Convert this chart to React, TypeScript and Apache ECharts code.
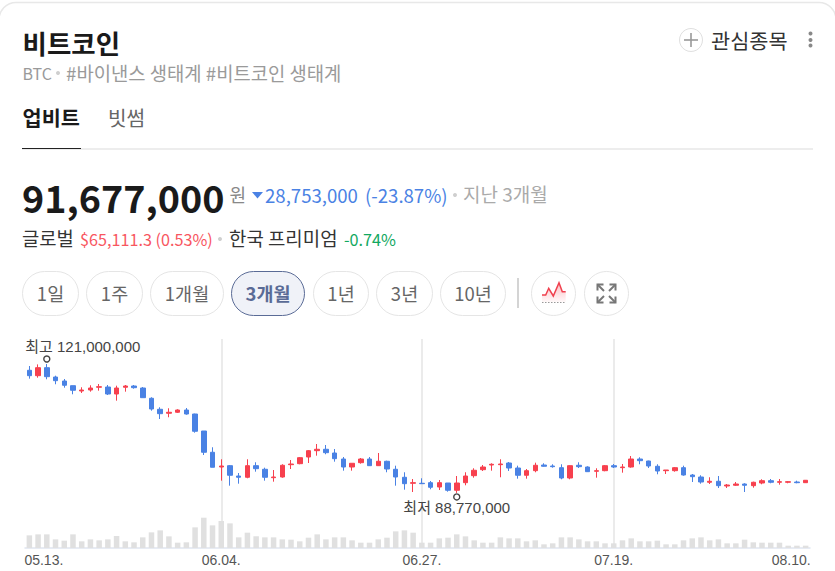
import React, { useEffect, useRef } from "react";
import * as echarts from "echarts";

const categories = [
  "05.13.","05.14.","05.15.","05.16.","05.17.","05.18.","05.19.","05.20.","05.21.","05.22.",
  "05.23.","05.24.","05.25.","05.26.","05.27.","05.28.","05.29.","05.30.","05.31.","06.01.",
  "06.02.","06.03.","06.04.","06.05.","06.06.","06.07.","06.08.","06.09.","06.10.","06.11.",
  "06.12.","06.13.","06.14.","06.15.","06.16.","06.17.","06.18.","06.19.","06.20.","06.21.",
  "06.22.","06.23.","06.24.","06.25.","06.26.","06.27.","06.28.","06.29.","06.30.","07.01.",
  "07.02.","07.03.","07.04.","07.05.","07.06.","07.07.","07.08.","07.09.","07.10.","07.11.",
  "07.12.","07.13.","07.14.","07.15.","07.16.","07.17.","07.18.","07.19.","07.20.","07.21.",
  "07.22.","07.23.","07.24.","07.25.","07.26.","07.27.","07.28.","07.29.","07.30.","07.31.",
  "08.01.","08.02.","08.03.","08.04.","08.05.","08.06.","08.07.","08.08.","08.09.","08.10.",
];
const shownDates = ["05.13.", "06.04.", "06.27.", "07.19.", "08.10."];
const guideDates = ["06.04.", "06.27.", "07.19."];

// Prices in millions of won
const opens = [
  119.43,118.08,120.08,117.75,116.75,115.58,114.25,114.5,115.18,115.25,
  113.5,115.18,115.5,115.0,112.43,109.68,108.68,108.93,109.5,108.5,
  104.25,98.93,95.25,95.58,93.0,92.68,95.58,94.68,92.58,92.75,
  95.83,96.08,97.75,99.33,99.68,98.75,97.25,95.25,96.33,97.25,
  95.58,96.68,94.68,92.68,91.18,91.18,91.33,90.25,91.25,89.43,
  91.33,93.08,94.58,95.75,95.83,96.25,95.0,93.18,94.33,95.75,
  95.5,95.08,92.5,95.68,95.25,94.18,94.33,95.58,95.08,95.25,
  97.25,96.75,95.43,94.33,94.33,95.08,93.25,92.75,91.43,91.68,
  90.5,90.68,91.0,90.58,91.25,91.83,91.43,91.43,91.5,91.33,
];
const closes = [
  118.08,120.08,117.83,116.83,115.68,114.43,114.5,115.0,115.33,113.5,
  115.0,115.5,115.08,112.58,109.75,108.58,108.93,109.5,108.5,104.18,
  98.93,95.18,95.5,93.18,92.68,95.58,94.83,92.68,92.75,95.68,
  96.0,97.58,99.33,99.68,98.83,97.33,95.25,96.18,97.25,95.58,
  96.68,94.75,92.75,91.08,91.33,91.08,90.18,91.33,89.43,91.25,
  93.0,94.43,95.25,95.93,96.0,95.0,93.18,94.33,95.68,95.43,
  95.33,92.5,95.58,95.33,94.08,94.33,95.58,95.25,95.25,97.25,
  96.83,95.5,94.25,94.5,95.08,93.25,92.83,91.5,91.68,90.58,
  90.75,91.0,90.68,91.43,91.83,91.43,91.58,91.58,91.33,91.93,
];
const lows = [
  117.33,117.58,117.18,115.93,115.08,113.43,113.75,114.08,114.33,113.25,
  111.83,114.08,114.83,112.58,109.33,107.25,107.68,108.75,108.33,103.83,
  98.25,95.18,91.83,90.58,91.08,92.43,94.08,91.83,91.58,92.58,
  94.75,95.93,96.25,98.08,98.43,96.58,94.33,94.33,96.08,95.5,
  95.5,93.93,90.58,89.58,89.0,91.0,89.68,89.5,89.08,88.77,
  90.68,92.58,94.25,94.33,92.68,94.25,92.33,92.33,93.93,95.33,
  95.08,92.18,92.18,95.0,94.0,92.58,94.18,95.0,93.83,95.08,
  95.93,95.0,93.43,93.5,94.08,93.08,91.5,91.08,91.0,90.0,
  90.0,90.5,89.0,90.08,90.93,91.18,90.83,91.18,91.18,91.25,
];
const highs = [
  120.5,120.9,121.0,118.08,117.25,115.58,115.18,115.68,116.0,115.75,
  115.58,115.75,115.75,115.25,112.68,110.18,109.93,109.68,110.0,108.58,
  104.25,100.18,97.18,95.75,93.75,97.18,96.43,95.08,94.5,95.93,
  97.0,97.75,99.5,101.0,100.75,99.75,97.75,96.18,97.5,97.75,
  98.75,96.83,95.58,93.93,92.25,92.43,91.75,92.0,91.25,93.0,
  93.93,94.93,95.75,96.18,97.18,96.5,95.58,94.75,96.33,96.18,
  95.93,95.93,95.68,96.43,95.43,94.93,95.75,96.0,96.0,98.0,
  97.68,96.83,95.93,94.5,95.25,95.58,93.5,93.18,92.68,93.0,
  91.0,91.5,91.18,91.58,92.18,92.25,92.25,91.75,91.83,92.0,
];
const volumes = [
  38,41,41,26,22,41,20,26,23,26,
  36,20,17,32,47,53,35,16,17,62,
  91,68,81,74,32,46,35,32,32,26,
  25,20,31,41,26,32,32,23,16,16,
  26,31,50,53,46,16,16,29,31,41,
  35,23,16,16,32,29,29,20,23,11,
  14,32,32,26,20,20,14,14,23,29,
  20,20,22,11,11,23,29,32,23,26,
  14,14,25,17,16,16,16,7,7,7,
];
const rangeButtons = ["1일", "1주", "1개월", "3개월", "1년", "3년", "10년"];
const buttonEdges = [[22, 79], [86, 143], [150, 224], [231, 305], [313, 369], [376, 433], [440, 506]];
const activeButton = "3개월";
const highLabel = "최고 121,000,000";
const lowLabel = "최저 88,770,000";

const RED = "#f7404e";
const BLUE = "#4a82e4";
const KR = '"Noto Sans CJK KR", "Noto Sans", sans-serif';
const AXIS = '"Liberation Sans", "Noto Sans CJK KR", sans-serif';

function txt(text: string, x: number, y: number, fontSize: number, fill: string, extra: any = {}) {
  return {
    type: "text",
    x,
    y,
    style: { text, fontSize, fill, fontFamily: KR, verticalAlign: "middle", align: "left", ...extra },
  };
}
function seg(x1: number, y1: number, x2: number, y2: number, stroke: string, lineWidth = 1) {
  return { type: "line", shape: { x1, y1, x2, y2 }, style: { stroke, lineWidth } };
}

function uiGraphics() {
  const g: any[] = [];
  g.push({ type: "rect", shape: { x: -1, y: 2.5, width: 837, height: 620, r: 17 }, style: { fill: "#fff", stroke: "#e8e8e8", lineWidth: 1.5 }, z: -10 });
  g.push(txt("비트코인", 22.5, 42, 26.5, "#1a1a1a", { fontWeight: "bold" }));
  g.push(txt("BTC", 22.5, 73, 16, "#9a9a9a"));
  g.push({ type: "circle", shape: { cx: 58, cy: 73, r: 2 }, style: { fill: "#cfcfcf" } });
  g.push(txt("#바이낸스 생태계 #비트코인 생태계", 66, 72.5, 18.8, "#9a9a9a"));
  g.push({ type: "circle", shape: { cx: 691, cy: 40, r: 11.5 }, style: { fill: "#fff", stroke: "#e0e0e0", lineWidth: 1 } });
  g.push(seg(684, 40, 698, 40, "#999", 1.6), seg(691, 33, 691, 47, "#999", 1.6));
  g.push(txt("관심종목", 711, 39.5, 20.8, "#333"));
  [33.5, 40, 45.5].forEach((cy) => g.push({ type: "circle", shape: { cx: 810.5, cy, r: 2 }, style: { fill: "#888" } }));
  g.push(txt("업비트", 22.5, 117, 20.8, "#1a1a1a", { fontWeight: "bold" }));
  g.push(txt("빗썸", 108, 117, 20.2, "#666"));
  g.push(seg(22, 149, 813, 149, "#ededed", 2));
  g.push(seg(22, 148.5, 81, 148.5, "#222", 1));

  g.push(txt("91,677,000", 22, 196, 37.7, "#1a1a1a", { fontWeight: "bold" }));
  g.push(txt("원", 229.5, 193.5, 18, "#888"));
  g.push({ type: "polygon", shape: { points: [[252, 192], [263, 192], [257.5, 198.5]] }, style: { fill: BLUE } });
  g.push(txt("28,753,000", 265, 194.5, 18.6, BLUE));
  g.push(txt("(-23.87%)", 365, 194.5, 18.6, BLUE));
  g.push({ type: "circle", shape: { cx: 455, cy: 195, r: 2 }, style: { fill: "#cfcfcf" } });
  g.push(txt("지난 3개월", 463, 193.5, 19, "#aaa"));

  g.push(txt("글로벌", 22, 237.5, 18.8, "#333"));
  g.push(txt("$65,111.3 (0.53%)", 80, 238.5, 16.2, "#f8565f"));
  g.push({ type: "circle", shape: { cx: 220, cy: 239, r: 2 }, style: { fill: "#cfcfcf" } });
  g.push(txt("한국 프리미엄", 229, 237.5, 18.9, "#333"));
  g.push(txt("-0.74%", 344, 238.5, 16.2, "#12a85f"));

  rangeButtons.forEach((label, i) => {
    const [l, r] = buttonEdges[i];
    const on = label === activeButton;
    g.push({
      type: "rect",
      shape: { x: l + 0.5, y: 271.5, width: r - l - 1, height: 44, r: 22 },
      style: { fill: on ? "#f0f2f8" : "#fff", stroke: on ? "#5a6b96" : "#e5e5e5", lineWidth: 1 },
    });
    g.push(txt(label, (l + r) / 2, 293, 18.5, on ? "#5a6b96" : "#666", { align: "center", fontWeight: on ? "bold" : "normal" }));
  });
  g.push(seg(518, 278, 518, 308, "#d4d4d4", 2));
  [553.5, 606.5].forEach((cx) =>
    g.push({ type: "circle", shape: { cx, cy: 293.5, r: 22 }, style: { fill: "#fff", stroke: "#e5e5e5", lineWidth: 1 } })
  );
  const spark = [[542, 295], [545.7, 295], [548.7, 288.3], [553.3, 296], [559, 282.7], [562.3, 291.7], [565.7, 291.7]];
  g.push({
    type: "polygon",
    shape: { points: [...spark, [565.7, 302], [542, 302]] },
    style: {
      fill: new echarts.graphic.LinearGradient(0, 0, 0, 1, [
        { offset: 0, color: "rgba(247,64,78,0.35)" },
        { offset: 1, color: "rgba(247,64,78,0.03)" },
      ]),
    },
  });
  g.push({ type: "polyline", shape: { points: spark }, style: { stroke: "#f0404e", lineWidth: 1.5, fill: "none" } });
  g.push({ type: "line", shape: { x1: 542, y1: 302.5, x2: 565.7, y2: 302.5 }, style: { stroke: "#999", lineWidth: 1, lineDash: [1.5, 1.5] } });
  const ic = "#777";
  [
    [597.5, 284.5, 1, 1],
    [615.5, 284.5, -1, 1],
    [597.5, 302.5, 1, -1],
    [615.5, 302.5, -1, -1],
  ].forEach(([x, y, dx, dy]) => {
    g.push({ type: "polyline", shape: { points: [[x, y + dy * 6], [x, y], [x + dx * 6, y]] }, style: { stroke: ic, lineWidth: 2, fill: "none" } });
    g.push(seg(x, y, x + dx * 6.5, y + dy * 6.5, ic, 2));
  });
  return g;
}

export default function App() {
  const ref = useRef<HTMLDivElement>(null);
  useEffect(() => {
    document.body.style.margin = "0";
    const chart = echarts.init(ref.current!, null, { renderer: "svg" });
    chart.setOption({
      animation: false,
      backgroundColor: "#fff",
      graphic: { elements: uiGraphics() },
      grid: [
        { left: 25, width: 785, top: 339, height: 209, containLabel: false },
        { left: 25, width: 785, top: 514.7, height: 33.3, containLabel: false },
      ],
      xAxis: [
        {
          type: "category",
          gridIndex: 0,
          data: categories,
          boundaryGap: true,
          axisLine: { show: false },
          axisTick: { show: false },
          axisLabel: { show: false },
          splitLine: { show: false },
        },
        {
          type: "category",
          gridIndex: 1,
          data: categories,
          boundaryGap: true,
          axisLine: { show: true, lineStyle: { color: "#dfe5ef", width: 1.5 } },
          axisTick: { show: false },
          splitLine: { show: false },
          axisLabel: {
            show: true,
            interval: (_i: number, v: string) => shownDates.includes(v),
            margin: 5,
            color: "#555",
            fontSize: 14,
            fontFamily: AXIS,
            formatter: (v: string) =>
              v === shownDates[0] ? `{first|${v}}` : v === shownDates[shownDates.length - 1] ? `{last|${v}}` : v,
            rich: {
              first: { padding: [0, 0, 0, 29], fontSize: 14, color: "#555", fontFamily: AXIS },
              last: { padding: [0, 29, 0, 0], fontSize: 14, color: "#555", fontFamily: AXIS },
            },
          },
        },
      ],
      yAxis: [
        { type: "value", gridIndex: 0, min: 75, max: 127.25, show: false, splitLine: { show: false } },
        { type: "value", gridIndex: 1, min: 0, max: 100, show: false, splitLine: { show: false } },
      ],
      series: [
        {
          type: "bar",
          xAxisIndex: 1,
          yAxisIndex: 1,
          data: volumes,
          barWidth: 5.5,
          itemStyle: { color: "#e0e0e0" },
          silent: true,
          z: 1,
        },
        {
          type: "candlestick",
          xAxisIndex: 0,
          yAxisIndex: 0,
          barWidth: 5,
          z: 3,
          data: categories.map((_, i) => [opens[i], closes[i], lows[i], highs[i]]),
          itemStyle: { color: RED, color0: BLUE, borderColor: RED, borderColor0: BLUE, borderWidth: 1 },
          markLine: {
            silent: true,
            symbol: "none",
            z: 0,
            label: { show: false },
            lineStyle: { color: "#e4e4e4", width: 1.5, type: "solid" },
            data: guideDates.map((d) => ({ xAxis: d })),
          },
          markPoint: {
            silent: true,
            symbol: "circle",
            symbolSize: 6,
            itemStyle: { color: "#fff", borderColor: "#444", borderWidth: 1.4 },
            data: [
              {
                coord: ["05.15.", 121],
                symbolOffset: [0, -5],
                label: { show: true, formatter: highLabel, position: "inside", offset: [36, -13], color: "#444", fontSize: 15, fontFamily: AXIS },
              },
              {
                coord: ["07.01.", 88.77],
                symbolOffset: [0, 4],
                label: { show: true, formatter: lowLabel, position: "inside", offset: [0, 11], color: "#444", fontSize: 15, fontFamily: AXIS },
              },
            ],
          },
        },
      ],
    });
    return () => chart.dispose();
  }, []);
  return <div ref={ref} style={{ width: 835, height: 571 }} />;
}
